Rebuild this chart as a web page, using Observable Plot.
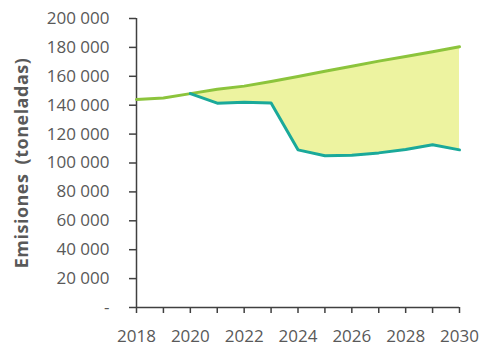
<!DOCTYPE html>
<html>
<head>
<meta charset="utf-8">
<script src="https://cdn.jsdelivr.net/npm/d3@7"></script>
<script src="https://cdn.jsdelivr.net/npm/@observablehq/plot@0.6"></script>
<style>
  html, body { margin: 0; padding: 0; background: #fff; }
  #chart svg { display: block; }
  .ylabel text { letter-spacing: 0.5px; word-spacing: 4px; }
</style>
</head>
<body>
<div id="chart"></div>
<script>
// Annual emissions (tonnes): reference trend vs. scenario with measures
const years = [2018, 2019, 2020, 2021, 2022, 2023, 2024, 2025, 2026, 2027, 2028, 2029, 2030];
const tendencial = [144000, 145000, 148000, 151000, 153200, 156400, 159900, 163500, 167000, 170500, 173700, 177000, 180500];
const conMedidas = [null, null, 148000, 141400, 142000, 141600, 109100, 105000, 105300, 107000, 109300, 112600, 109100];
const yTicks = [0, 20000, 40000, 60000, 80000, 100000, 120000, 140000, 160000, 180000, 200000];
const xLabelYears = [2018, 2020, 2022, 2024, 2026, 2028, 2030];

const rows = years.map((year, i) => ({year, tendencial: tendencial[i], conMedidas: conMedidas[i]}));
const gap = rows.filter(d => d.conMedidas != null);

const fmt = v => v === 0 ? "-" : d3.format(",")(v).replace(/,/g, " ");
const axisColor = "#404040";
const textColor = "#595959";

const chart = Plot.plot({
  width: 485,
  height: 347,
  marginLeft: 136,
  marginRight: 26,
  marginTop: 18,
  marginBottom: 40,
  style: {fontFamily: "'Open Sans', sans-serif", fontSize: "17px", color: textColor, background: "#fff"},
  x: {domain: [2018, 2030]},
  y: {domain: [0, 200000]},
  marks: [
    Plot.areaY(gap, {x: "year", y1: "conMedidas", y2: "tendencial", fill: "#edf3a0"}),
    Plot.axisY({ticks: yTicks, tickFormat: fmt, tickSize: 7, tickPadding: 20, stroke: axisColor, strokeWidth: 1.5, fill: textColor, fontSize: 17, label: null}),
    Plot.axisX({ticks: years, tickFormat: () => "", tickSize: 6, stroke: axisColor, strokeWidth: 1.5, label: null}),
    Plot.axisX({ticks: xLabelYears, tickFormat: d => String(d), tickSize: 0, tickPadding: 22, fill: textColor, fontSize: 17, label: null}),
    Plot.ruleX([2018], {stroke: axisColor, strokeWidth: 1.5}),
    Plot.ruleY([0], {stroke: axisColor, strokeWidth: 1.5}),
    Plot.lineY(rows, {x: "year", y: "tendencial", stroke: "#8cc43c", strokeWidth: 3}),
    Plot.lineY(gap, {x: "year", y: "conMedidas", stroke: "#1aa99a", strokeWidth: 3}),
    Plot.text(["Emisiones (toneladas)"], {
      frameAnchor: "left", textAnchor: "middle", dx: -114, dy: 0, rotate: -90,
      fontWeight: "bold", fontSize: 18, fill: textColor, className: "ylabel"
    })
  ]
});

document.getElementById("chart").appendChild(chart);
</script>
</body>
</html>
